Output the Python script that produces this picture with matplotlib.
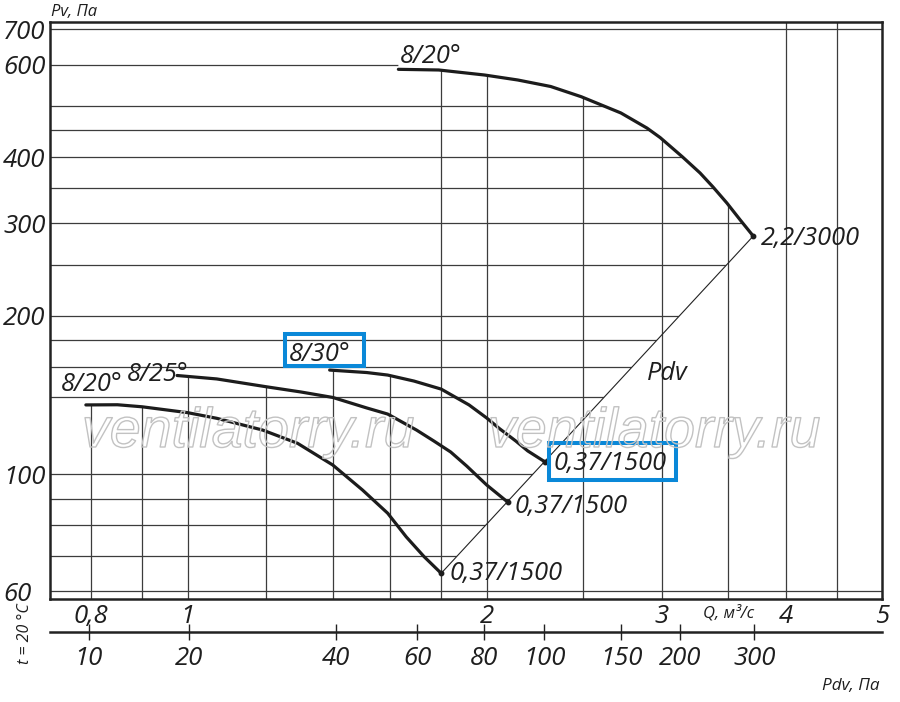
import numpy as np
import matplotlib
matplotlib.use("Agg")
import matplotlib.pyplot as plt
from matplotlib.patches import Polygon, Rectangle
import matplotlib.patheffects as pe
from matplotlib.ticker import FixedLocator, FixedFormatter, NullLocator

# ---------------- data ----------------
# upper curve 8/20° (2,2 kW / 3000 rpm)
q_top = [1.63, 1.79, 1.99, 2.15, 2.32, 2.49, 2.73, 2.90, 2.99, 3.15, 3.28, 3.38, 3.49, 3.60, 3.71]
pv_top = [587.7, 586.0, 573.3, 560.9, 545.2, 521.4, 485.6, 454.6, 436.1, 400.5, 373.5, 351.3, 327.6, 304.1, 283.5]
# lower curves (0,37 kW / 1500 rpm)
q_20 = [0.79, 0.85, 0.90, 1.00, 1.07, 1.19, 1.29, 1.40, 1.50, 1.59, 1.66, 1.73, 1.80]
pv_20 = [135.5, 135.6, 134.4, 131.0, 127.8, 121.4, 114.6, 104.2, 93.4, 84.4, 76.1, 69.8, 64.9]
q_25 = [0.976, 1.07, 1.20, 1.30, 1.40, 1.515, 1.59, 1.70, 1.77, 1.84, 1.91, 2.00, 2.10]
pv_25 = [154.1, 151.8, 146.7, 143.4, 140.0, 133.7, 130.2, 121.4, 115.7, 110.3, 103.7, 95.5, 88.6]
q_30 = [1.39, 1.515, 1.59, 1.69, 1.80, 1.92, 2.00, 2.06, 2.14, 2.20, 2.29]
pv_30 = [157.8, 156.1, 154.4, 150.4, 145.2, 135.5, 128.0, 122.2, 115.7, 110.8, 105.6]

# axis ticks / grid
q_ticks = [0.8, 1, 2, 3, 4, 5]
q_ticklabels = ["0,8", "1", "2", "3", "4", "5"]
q_grid = [0.8, 0.9, 1, 1.2, 1.4, 1.6, 1.8, 2, 2.5, 3, 3.5, 4, 4.5]
pv_ticks = [60, 100, 200, 300, 400, 600, 700]
pv_ticklabels = ["60", "100", "200", "300", "400", "600", "700"]
pv_grid = [60, 70, 80, 90, 100, 140, 160, 180, 200, 250, 300, 350, 400, 450, 500, 600, 700]
# dynamic-pressure scale: Pdv values and the flow Q where each falls on the nomogram
pdv_values = [10, 20, 40, 60, 80, 100, 150, 200, 300]
pdv_at_q = [0.795, 1.004, 1.411, 1.702, 1.989, 2.286, 2.733, 3.131, 3.718]

# ---------------- styling ----------------
plt.rcParams["font.family"] = ["Open Sans", "DejaVu Sans"]
plt.rcParams["font.style"] = "italic"
TXT = "#1e1e1e"
GRID = "#3c3c3c"
BLUE = "#0a88d8"
W, H = 900, 702


def fx(x):
    return x / W


def fy(y):
    return 1 - y / H


fig = plt.figure(figsize=(W / 100, H / 100), dpi=100)
ax = fig.add_axes([fx(50), fy(599), (882 - 50) / W, (599 - 22) / H])
ax.set_xscale("log")
ax.set_yscale("log")
xmin, xmax = 0.727, 5.0
ymin, ymax = 58.0, 722.8
ax.set_xlim(xmin, xmax)
ax.set_ylim(ymin, ymax)

for s in ax.spines.values():
    s.set_linewidth(1.8)
    s.set_color("#222222")

tick_fs = 18.5
ax.xaxis.set_major_locator(FixedLocator(q_ticks))
ax.xaxis.set_major_formatter(FixedFormatter(q_ticklabels))
ax.xaxis.set_minor_locator(NullLocator())
ax.yaxis.set_major_locator(FixedLocator(pv_ticks))
ax.yaxis.set_major_formatter(FixedFormatter(pv_ticklabels))
ax.yaxis.set_minor_locator(NullLocator())
ax.tick_params(axis="x", length=0, pad=3.5, labelsize=tick_fs, labelcolor=TXT)
ax.tick_params(axis="y", length=0, pad=33.8, labelsize=tick_fs, labelcolor=TXT)
for lab in ax.get_yticklabels():
    lab.set_horizontalalignment("left")

# secondary Pdv scale
sec = ax.secondary_xaxis(-0.0572)
sec.set_xticks(pdv_at_q, labels=[str(v) for v in pdv_values])
sec.xaxis.set_minor_locator(NullLocator())
sec.tick_params(direction="inout", length=11.5, width=1.0, pad=4.0,
                labelsize=tick_fs, labelcolor=TXT, color="#222222")
sec.spines["bottom"].set_linewidth(1.8)
sec.spines["bottom"].set_color("#222222")


# ---------------- grid clipping regions ----------------
def envelope(segments):
    verts = []
    for i, (qs, ps) in enumerate(segments):
        q_next = segments[i + 1][0][0] if i + 1 < len(segments) else None
        for q, p in zip(qs, ps):
            if q_next is None or q < q_next:
                verts.append((q, p))
        if q_next is not None:
            verts.append((q_next, verts[-1][1]))
    return verts


env = envelope([(q_20, pv_20), (q_25, pv_25), (q_30, pv_30), (q_top, pv_top)])
v_verts = [(xmin, ymin), (xmin, pv_20[0])] + env + [(q_top[-1], ymax), (xmax, ymax), (xmax, ymin)]
v_clip = Polygon(v_verts, closed=True, transform=ax.transData)
h_verts = ([(xmin, ymin), (xmin, ymax), (q_top[0], ymax)] + list(zip(q_top, pv_top))
           + [(q_20[-1], pv_20[-1]), (q_20[-1], ymin)])
h_clip = Polygon(h_verts, closed=True, transform=ax.transData)

for yv in pv_grid:
    ln = ax.axhline(yv, color=GRID, lw=0.9, zorder=1)
    if yv not in (min(pv_grid), max(pv_grid)):
        ln.set_clip_path(h_clip)
for xv in q_grid:
    ln = ax.axvline(xv, color=GRID, lw=0.9, zorder=1)
    ln.set_clip_path(v_clip)

# ---------------- curves ----------------
for qs, ps in [(q_top, pv_top), (q_20, pv_20), (q_25, pv_25), (q_30, pv_30)]:
    ax.plot(qs, ps, color="#1c1c1c", lw=2.3, solid_capstyle="round",
            solid_joinstyle="round", zorder=3)
    ax.plot(qs[-1], ps[-1], "o", color="#1c1c1c", ms=3.2, zorder=3)

# Pdv (system) line through the curve end points
ax.plot([q_20[-1], q_top[-1]], [pv_20[-1], pv_top[-1]], color="#222222", lw=0.8, zorder=2)

# ---------------- labels ----------------
lab_fs = 18.3
fig.text(fx(400), fy(63), "8/20°", fontsize=lab_fs, color=TXT, va="baseline")
fig.text(fx(127), fy(381), "8/25°", fontsize=lab_fs, color=TXT, va="baseline")
fig.text(fx(61), fy(391), "8/20°", fontsize=lab_fs, color=TXT, va="baseline")
fig.text(fx(289), fy(361), "8/30°", fontsize=lab_fs, color=TXT, va="baseline")
fig.text(fx(554), fy(470), "0,37/1500", fontsize=lab_fs, color=TXT, va="baseline")
fig.text(fx(515), fy(513), "0,37/1500", fontsize=lab_fs, color=TXT, va="baseline")
fig.text(fx(450), fy(580), "0,37/1500", fontsize=lab_fs, color=TXT, va="baseline")
fig.text(fx(761), fy(245), "2,2/3000", fontsize=lab_fs, color=TXT, va="baseline")
fig.text(fx(647), fy(380), "Pdv", fontsize=lab_fs, color=TXT, va="baseline")

fig.text(fx(51), fy(16), "Pv, Па", fontsize=12, color=TXT, va="baseline")
fig.text(fx(703), fy(618), "Q, м³/с", fontsize=12, color=TXT, va="baseline")
fig.text(fx(822), fy(690), "Pdv, Па", fontsize=12.3, color=TXT, va="baseline")
fig.text(fx(25), fy(634), "t = 20 °C", fontsize=11.5, color=TXT, rotation=90,
         ha="center", va="center")

# highlight boxes
for (x0, y0, x1, y1) in [(285, 334, 364, 366), (549, 443, 676, 480)]:
    fig.add_artist(Rectangle((fx(x0), fy(y1)), (x1 - x0) / W, (y1 - y0) / H,
                             transform=fig.transFigure, fill=False,
                             edgecolor=BLUE, lw=2.9, zorder=5))

# watermarks
for xw in (82, 488):
    fig.text(fx(xw), fy(447), "ventilatorry.ru", fontsize=40,
             family=["Liberation Sans", "DejaVu Sans"], style="italic",
             color=(1, 1, 1, 0), va="baseline", zorder=6,
             path_effects=[pe.Stroke(linewidth=1.0, foreground="#c2c2c2")])

fig.savefig("out.png", dpi=100)
